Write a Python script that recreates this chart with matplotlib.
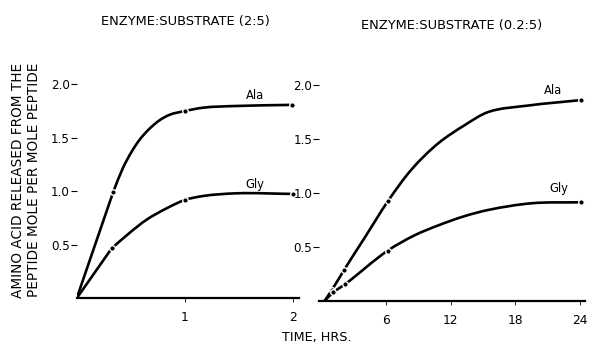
import matplotlib
matplotlib.use("Agg")
import matplotlib.pyplot as plt
import numpy as np
from matplotlib.path import Path
from matplotlib.patches import PathPatch

plt.rcParams['font.family'] = ['DejaVu Sans']

# ---- data ----
# Left panel: ENZYME:SUBSTRATE (2:5), time in hours
l_ala_curve_x = [0, 0.339, 0.431, 0.509, 0.586, 0.679, 0.771, 0.864, 1.003, 1.172, 1.481, 1.991]
l_ala_curve_y = [0, 0.996, 1.224, 1.370, 1.486, 1.589, 1.666, 1.716, 1.750, 1.781, 1.797, 1.807]
l_ala_pts_x = [0.339, 1.003, 1.991]
l_ala_pts_y = [0.996, 1.750, 1.807]

l_gly_curve_x = [0, 0.324, 0.494, 0.648, 0.833, 1.003, 1.172, 1.481, 2.006]
l_gly_curve_y = [0, 0.467, 0.615, 0.735, 0.841, 0.919, 0.956, 0.981, 0.975]
l_gly_pts_x = [0.324, 1.003, 2.006]
l_gly_pts_y = [0.467, 0.919, 0.975]

# Right panel: ENZYME:SUBSTRATE (0.2:5)
r_ala_curve_x = [0.3, 0.97, 2.13, 4.05, 6.22, 8.39, 10.85, 13.33, 15.49, 19.2, 24.06]
r_ala_curve_y = [0, 0.10, 0.29, 0.59, 0.93, 1.22, 1.46, 1.63, 1.75, 1.81, 1.86]
r_ala_pts_x = [0.97, 2.13, 6.22, 24.06]
r_ala_pts_y = [0.10, 0.29, 0.93, 1.86]

r_gly_curve_x = [0.3, 1.11, 2.2, 6.16, 8.69, 10.85, 13.33, 15.49, 19.52, 24.06]
r_gly_curve_y = [0, 0.08, 0.155, 0.466, 0.61, 0.70, 0.787, 0.843, 0.905, 0.914]
r_gly_pts_x = [1.11, 2.2, 6.16, 24.06]
r_gly_pts_y = [0.08, 0.155, 0.466, 0.914]

y_ticks = [0.5, 1.0, 1.5, 2.0]
y_ticklabels = ["0.5", "1.0", "1.5", "2.0"]
l_xticks = [1, 2]
l_xticklabels = ["1", "2"]
r_xticks = [6, 12, 18, 24]
r_xticklabels = ["6", "12", "18", "24"]

titles = ["ENZYME:SUBSTRATE (2:5)", "ENZYME:SUBSTRATE (0.2:5)"]

fig = plt.figure(figsize=(5.9, 3.44), dpi=100)
axL = fig.add_axes([0.130, 0.1328, 0.377, 0.669])
axR = fig.add_axes([0.5409, 0.125, 0.4513, 0.675])

axL.set_xlim(0, 2.06)
axR.set_xlim(-0.2, 24.5)
for ax in (axL, axR):
    ax.set_ylim(0, 2.15)

lw = 1.9

def smooth_path(ax, xs, ys, corners=()):
    # Bezier path through the read points; tangent = bisector of adjacent segments (pixel space)
    trans = ax.transData
    P = trans.transform(np.column_stack([xs, ys]))
    n = len(P)
    U = []
    for i in range(n - 1):
        d = P[i + 1] - P[i]
        U.append(d / (np.hypot(*d) + 1e-9))
    Tin, Tout = [], []
    for i in range(n):
        if i == 0:
            a = b = U[0]
        elif i == n - 1:
            a = b = U[-1]
        elif i in corners:
            a, b = U[i - 1], U[i]
        else:
            a = b = U[i - 1] + U[i]
        Tin.append(a / (np.hypot(*a) + 1e-9))
        Tout.append(b / (np.hypot(*b) + 1e-9))
    verts = [P[0]]
    codes = [Path.MOVETO]
    for i in range(n - 1):
        L = np.hypot(*(P[i + 1] - P[i]))
        c1 = P[i] + Tout[i] * L / 3
        c2 = P[i + 1] - Tin[i + 1] * L / 3
        verts += [c1, c2, P[i + 1]]
        codes += [Path.CURVE4] * 3
    inv = trans.inverted()
    return Path(inv.transform(np.array(verts)), codes)

def draw(ax, cx, cy, px, py, corners=()):
    ax.add_patch(PathPatch(smooth_path(ax, cx, cy, corners), facecolor='none', edgecolor='black',
                           lw=lw, capstyle='round', joinstyle='round',
                           transform=ax.transData, zorder=2))
    ax.plot(px, py, 'o', color='black', ms=4.0, mec='white', mew=1.0, zorder=3)

draw(axL, l_ala_curve_x, l_ala_curve_y, l_ala_pts_x, l_ala_pts_y, corners=(1,))
draw(axL, l_gly_curve_x, l_gly_curve_y, l_gly_pts_x, l_gly_pts_y, corners=(1,))
draw(axR, r_ala_curve_x, r_ala_curve_y, r_ala_pts_x, r_ala_pts_y)
draw(axR, r_gly_curve_x, r_gly_curve_y, r_gly_pts_x, r_gly_pts_y)

for ax in (axL, axR):
    for s in ('top', 'right', 'left'):
        ax.spines[s].set_visible(False)
    ax.spines['bottom'].set_linewidth(1.6)
    ax.set_yticks(y_ticks)
    ax.set_yticklabels(y_ticklabels)
    ax.tick_params(axis='y', direction='out', length=4, width=0.8, pad=1, labelsize=8.6)
    ax.tick_params(axis='x', direction='out', length=3, width=0.6, pad=6, labelsize=8.8)
    ax.patch.set_alpha(0)

axL.set_xticks(l_xticks)
axL.set_xticklabels(l_xticklabels)
axR.set_xticks(r_xticks)
axR.set_xticklabels(r_xticklabels)

axL.text(1.65, 1.83, "Ala", fontsize=8.3, ha='center', va='bottom')
axL.text(1.65, 1.00, "Gly", fontsize=8.3, ha='center', va='bottom')
axR.text(21.5, 1.89, "Ala", fontsize=8.3, ha='center', va='bottom')
axR.text(22.0, 0.98, "Gly", fontsize=8.3, ha='center', va='bottom')

fig.text(185/590, 1 - 22/344, titles[0], fontsize=9.4, ha='center', va='center')
fig.text(452/590, 1 - 26/344, titles[1], fontsize=9.4, ha='center', va='center')

fig.text(26/590, 1 - 180/344, "AMINO ACID RELEASED FROM THE\nPEPTIDE MOLE PER MOLE PEPTIDE",
         rotation=90, fontsize=9.8, ha='center', va='center', linespacing=1.1)
fig.text(317/590, 1 - 337/344, "TIME, HRS.", fontsize=9.2, ha='center', va='center')

fig.savefig("out.png", dpi=100)
